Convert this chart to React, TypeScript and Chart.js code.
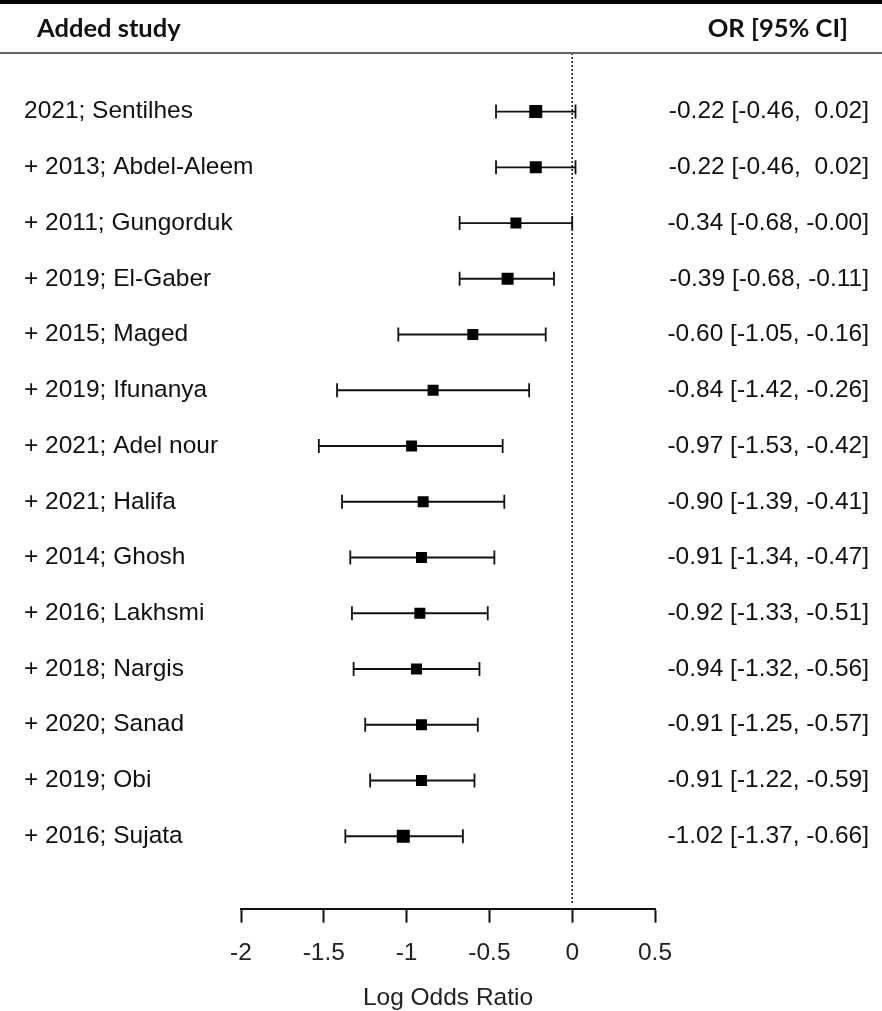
import React, { useEffect, useRef } from "react";
import { Chart, registerables } from "chart.js";

Chart.register(...registerables);

const studies = [
  "2021; Sentilhes",
  "+ 2013; Abdel-Aleem",
  "+ 2011; Gungorduk",
  "+ 2019; El-Gaber",
  "+ 2015; Maged",
  "+ 2019; Ifunanya",
  "+ 2021; Adel nour",
  "+ 2021; Halifa",
  "+ 2014; Ghosh",
  "+ 2016; Lakhsmi",
  "+ 2018; Nargis",
  "+ 2020; Sanad",
  "+ 2019; Obi",
  "+ 2016; Sujata",
];
const estimates = [-0.22, -0.22, -0.34, -0.39, -0.6, -0.84, -0.97, -0.9, -0.91, -0.92, -0.94, -0.91, -0.91, -1.02];
const lowers = [-0.46, -0.46, -0.68, -0.68, -1.05, -1.42, -1.53, -1.39, -1.34, -1.33, -1.32, -1.25, -1.22, -1.37];
const uppers = [0.02, 0.02, -0.0, -0.11, -0.16, -0.26, -0.42, -0.41, -0.47, -0.51, -0.56, -0.57, -0.59, -0.66];
const ciLabels = [
  "-0.22 [-0.46,  0.02]",
  "-0.22 [-0.46,  0.02]",
  "-0.34 [-0.68, -0.00]",
  "-0.39 [-0.68, -0.11]",
  "-0.60 [-1.05, -0.16]",
  "-0.84 [-1.42, -0.26]",
  "-0.97 [-1.53, -0.42]",
  "-0.90 [-1.39, -0.41]",
  "-0.91 [-1.34, -0.47]",
  "-0.92 [-1.33, -0.51]",
  "-0.94 [-1.32, -0.56]",
  "-0.91 [-1.25, -0.57]",
  "-0.91 [-1.22, -0.59]",
  "-1.02 [-1.37, -0.66]",
];
const squareSides = [13, 12, 11, 12, 11, 11, 11, 11, 11, 11, 11, 11, 11, 13];
const xTicks = [-2, -1.5, -1, -0.5, 0, 0.5];

const FONT = "'Liberation Sans', Arial, sans-serif";
const TXT = 24.5;

const forestPlugin = {
  id: "forest",
  beforeDatasetsDraw(chart: any) {
    const { ctx, chartArea, scales } = chart;
    const xs = scales.x;
    const ys = scales.y;
    ctx.save();
    const x0 = xs.getPixelForValue(0);
    ctx.strokeStyle = "#222";
    ctx.lineWidth = 1.6;
    ctx.setLineDash([2, 2]);
    ctx.beginPath();
    ctx.moveTo(x0, chartArea.top);
    ctx.lineTo(x0, chartArea.bottom - 4);
    ctx.stroke();
    ctx.setLineDash([]);
    ctx.strokeStyle = "#111";
    ctx.lineWidth = 1.8;
    for (let i = 0; i < studies.length; i++) {
      const y = ys.getPixelForValue(i + 1);
      const xl = xs.getPixelForValue(lowers[i]);
      const xu = xs.getPixelForValue(uppers[i]);
      ctx.beginPath();
      ctx.moveTo(xl, y);
      ctx.lineTo(xu, y);
      ctx.moveTo(xl, y - 7);
      ctx.lineTo(xl, y + 7);
      ctx.moveTo(xu, y - 7);
      ctx.lineTo(xu, y + 7);
      ctx.stroke();
    }
    ctx.restore();
  },
  afterDraw(chart: any) {
    const { ctx, scales, width } = chart;
    const ys = scales.y;
    ctx.save();
    ctx.fillStyle = "#000";
    ctx.fillRect(0, 0, width, 4);
    ctx.fillStyle = "#666";
    ctx.fillRect(0, 52, width, 2);
    ctx.fillStyle = "#111";
    ctx.textBaseline = "alphabetic";
    ctx.font = `bold 25.5px Lato, 'Open Sans', sans-serif`;
    ctx.textAlign = "left";
    ctx.fillText("Added study", 37, 37);
    ctx.textAlign = "right";
    ctx.fillText("OR [95% CI]", 848, 37);
    ctx.textBaseline = "middle";
    ctx.font = `${TXT}px ${FONT}`;
    for (let i = 0; i < studies.length; i++) {
      const y = ys.getPixelForValue(i + 1);
      ctx.textAlign = "left";
      ctx.fillText(studies[i], 24, y);
      ctx.textAlign = "right";
      ctx.fillText(ciLabels[i], 869, y);
    }
    ctx.restore();
  },
};

export default function App() {
  const ref = useRef<HTMLCanvasElement | null>(null);
  useEffect(() => {
    if (!ref.current) return;
    const chart = new Chart(ref.current, {
      type: "scatter",
      data: {
        datasets: [
          {
            data: estimates.map((e, i) => ({ x: e, y: i + 1 })),
            pointStyle: "rect",
            pointRadius: squareSides.map((s) => s / Math.SQRT2),
            pointBackgroundColor: "#000",
            pointBorderWidth: 0,
            pointHoverRadius: squareSides.map((s) => s / Math.SQRT2),
          },
        ],
      },
      options: {
        animation: false,
        responsive: false,
        events: [],
        layout: { padding: { left: 241, right: 227, top: 53, bottom: -2 } },
        plugins: { legend: { display: false }, tooltip: { enabled: false } },
        scales: {
          x: {
            type: "linear",
            min: -2,
            max: 0.5,
            afterBuildTicks: (axis: any) => {
              axis.ticks = xTicks.map((v) => ({ value: v }));
            },
            ticks: {
              color: "#222",
              font: { family: FONT, size: TXT, lineHeight: 1.016 },
              padding: 18,
              callback: (v: any) => String(v),
            },
            grid: {
              display: true,
              drawOnChartArea: false,
              drawTicks: true,
              tickLength: 14,
              tickWidth: 2,
              tickColor: "#111",
            },
            border: { display: true, color: "#111", width: 2 },
            title: {
              display: true,
              text: "Log Odds Ratio",
              color: "#222",
              font: { family: FONT, size: TXT },
              padding: { top: 0, bottom: 0 },
            },
          },
          y: {
            type: "linear",
            min: -0.05,
            max: 15.3,
            reverse: true,
            display: false,
          },
        },
      },
      plugins: [forestPlugin],
    });
    return () => chart.destroy();
  }, []);
  return (
    <div style={{ position: "fixed", left: 0, top: 0, width: 882, height: 1011, background: "#fff" }}>
      <canvas ref={ref} width={882} height={1011} />
    </div>
  );
}
